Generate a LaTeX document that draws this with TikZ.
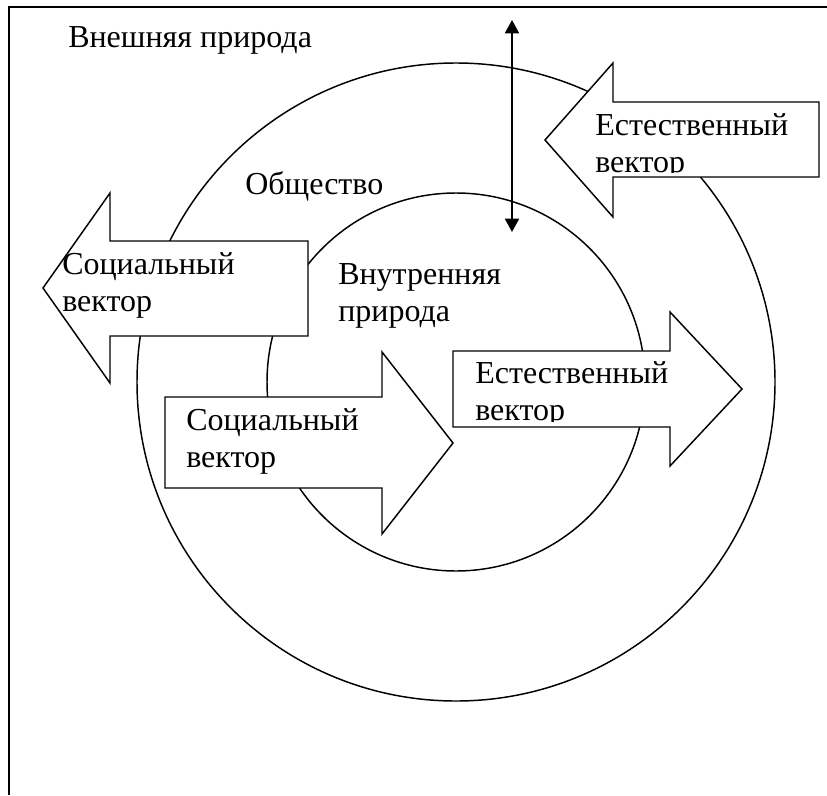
\documentclass[tikz,border=0pt]{standalone}
\usepackage{fontspec}
\setmainfont{Liberation Serif}
\usetikzlibrary{arrows.meta}

\tikzset{
  shp/.style={draw=black,fill=white,line width=1.1pt,line join=miter},
  lbl/.style={anchor=base west,inner sep=0pt,align=left,
    font=\fontsize{24}{27.75}\selectfont},
  axtip/.tip={Triangle[width=10.5pt,length=10pt]},
}

\begin{document}
\begin{tikzpicture}[x=0.75pt,y=-0.75pt]
\useasboundingbox (0,0) rectangle (827,795);
% frame
\draw[line width=1.5pt] (8.5,795) -- (8.5,7) -- (827,7);
% circles
\coordinate (ctr) at (456,382);
\draw[line width=1.1pt] (ctr) circle[radius=319];
\draw[line width=1.1pt] (ctr) circle[radius=189];
% double arrow
\coordinate (axtop) at (512,20);
\coordinate (axbot) at (512,232);
\draw[axtip-axtip,line width=1.5pt] (axtop) -- (axbot);
% block arrows
\draw[shp] (43,288) -- (110,193) -- (110,241) -- (308,241) -- (308,336)
  -- (110,336) -- (110,383) -- cycle;
\draw[shp] (545,140) -- (613,63) -- (613,102) -- (819,102) -- (819,177)
  -- (613,177) -- (613,217) -- cycle;
\draw[shp] (165,397) -- (382,397) -- (382,352) -- (453,443) -- (382,534)
  -- (382,488) -- (165,488) -- cycle;
\draw[shp] (453,351) -- (670,351) -- (670,312) -- (742,389) -- (670,466)
  -- (670,427) -- (453,427) -- cycle;
% labels (base = last line)
\node[lbl] (outer) at (68,48) {Внешняя природа};
\node[lbl] (society) at (245,194) {Общество};
\node[lbl] (inner) at (338,321) {Внутренняя\\природа};
\node[lbl] (socleft) at (62,311) {Социальный\\вектор};
\node[lbl] (socbot) at (186,467) {Социальный\\вектор};
\begin{scope}
  \clip (453,340) rectangle (670,421);
  \node[lbl] (natright) at (475,420) {Естественный\\вектор};
\end{scope}
\begin{scope}
  \clip (560,90) rectangle (819,172);
  \node[lbl] (nattop) at (595,172) {Естественный\\вектор};
\end{scope}
\end{tikzpicture}
\end{document}
